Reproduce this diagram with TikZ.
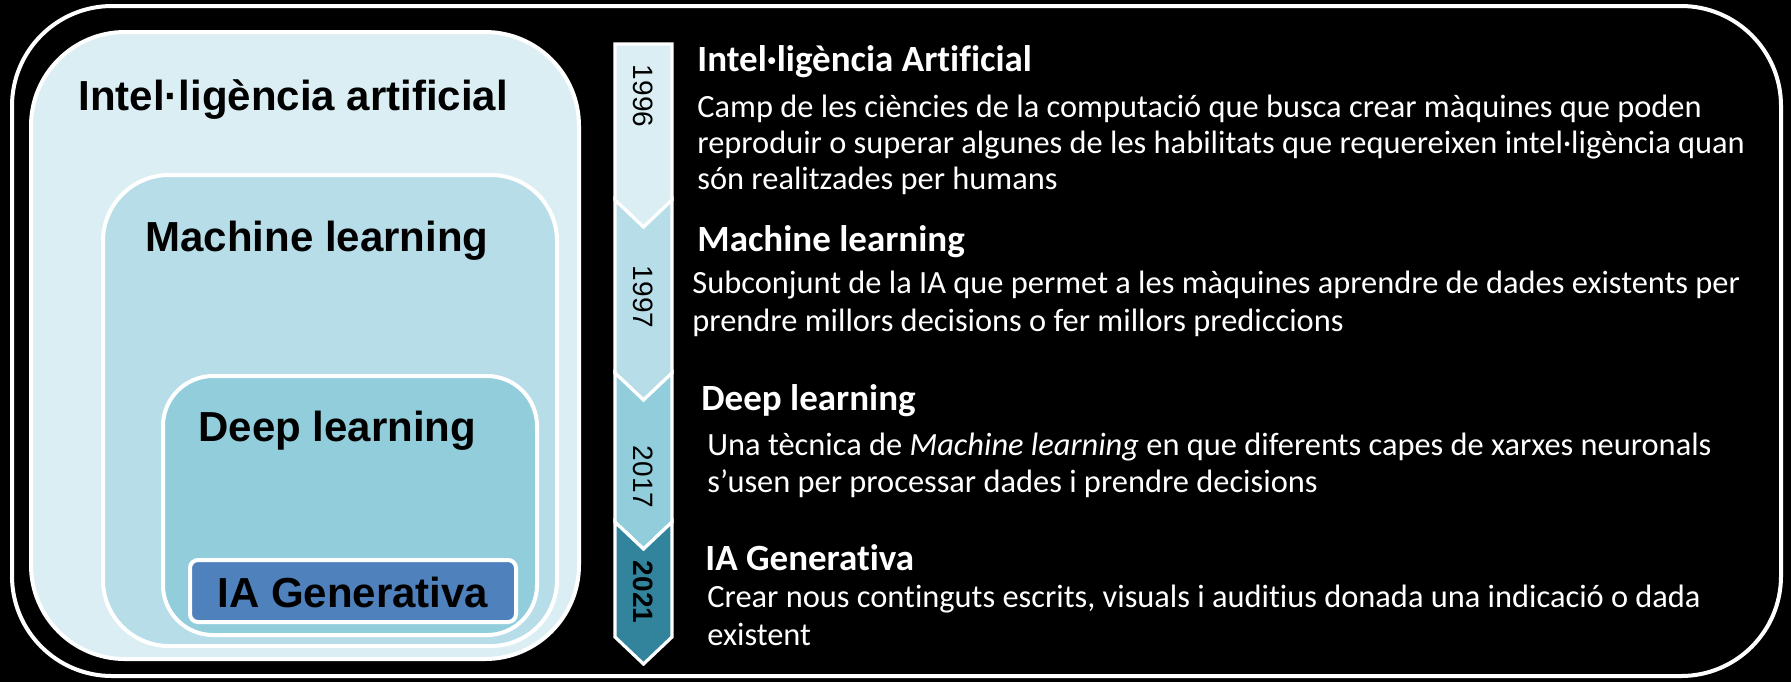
\documentclass[tikz,border=0pt]{standalone}
\usepackage{fontspec}
\setmainfont{Carlito}[Ligatures={NoCommon}]
\newfontfamily\arialf{Liberation Sans}
\definecolor{aiC}{HTML}{DAEEF3}
\definecolor{mlC}{HTML}{B7DDE8}
\definecolor{dlC}{HTML}{92CDDC}
\definecolor{genC}{HTML}{4F81BD}
\definecolor{yrC}{HTML}{31849B}
\begin{document}
\begin{tikzpicture}[x=0.5pt,y=-0.5pt,
  panel/.style={draw=white,line width=2pt},
  title/.style={anchor=base west,inner sep=0pt,font=\arialf\bfseries\fontsize{21}{24}\selectfont,text=black},
  head/.style={anchor=base west,inner sep=0pt,font=\bfseries\fontsize{18.5}{20}\selectfont,text=white},
  body/.style={anchor=base west,inner sep=0pt,font=\fontsize{16.2}{18}\selectfont,text=white},
  year/.style={rotate=-90,inner sep=0pt,font=\arialf\fontsize{14}{16}\selectfont,text=black},
  chev/.style={draw=white,line width=1.6pt,line join=miter}]
\fill[black] (0,0) rectangle (1791,682);
\useasboundingbox (0,0) rectangle (1791,682);
% outer frame
\draw[white,line width=2pt,rounded corners=50pt] (12,6) rectangle (1781,676);
% nested panels
\draw[panel,fill=aiC,rounded corners=47pt] (31,32) rectangle (579,659);
\draw[panel,fill=mlC,rounded corners=33pt] (103,175) rectangle (557,646);
\draw[panel,fill=dlC,rounded corners=25pt] (163,376) rectangle (537,635);
\draw[panel,fill=genC,rounded corners=4pt] (190,560) rectangle (516,622);
\node[title] (tAI) at (78,110) {Intel·ligència artificial};
\node[title] (tML) at (145,251) {Machine learning};
\node[title] (tDL) at (198,441) {Deep learning};
\node[title] (tGen) at (217,607) {IA Generativa};
% timeline chevrons
\draw[chev,fill=aiC] (615,44) -- (672,44) -- (672,200) -- (643.5,227) -- (615,200) -- cycle;
\draw[chev,fill=mlC] (615,200) -- (643.5,227) -- (672,200) -- (672,373) -- (643.5,400) -- (615,373) -- cycle;
\draw[chev,fill=dlC] (615,373) -- (643.5,400) -- (672,373) -- (672,522) -- (643.5,549) -- (615,522) -- cycle;
\draw[chev,fill=yrC] (615,522) -- (643.5,549) -- (672,522) -- (672,637) -- (643.5,664) -- (615,637) -- cycle;
\node[year] (y96) at (643,96) {1996};
\node[year] (y97) at (643,297) {1997};
\node[year] (y17) at (643,477) {2017};
\node[year,font=\arialf\bfseries\fontsize{14}{16}\selectfont] (y21) at (643,592) {2021};
% descriptions
\node[head] (h1) at (697,71) {Intel·ligència Artificial};
\node[body] (b1a) at (697,117) {Camp de les ciències de la computació que busca crear màquines que poden};
\node[body] (b1b) at (697,153) {reproduir o superar algunes de les habilitats que requereixen intel·ligència quan};
\node[body] (b1c) at (697,189) {són realitzades per humans};
\node[head] (h2) at (697,251) {Machine learning};
\node[body] (b2a) at (692,293) {Subconjunt de la IA que permet a les màquines aprendre de dades existents per};
\node[body] (b2b) at (692,331) {prendre millors decisions o fer millors prediccions};
\node[head] (h3) at (701,410) {Deep learning};
\node[body] (b3a) at (707,455) {Una tècnica de \textit{Machine learning} en que diferents capes de xarxes neuronals};
\node[body] (b3b) at (707,492) {s’usen per processar dades i prendre decisions};
\node[head] (h4) at (705,570) {IA Generativa};
\node[body] (b4a) at (707,607) {Crear nous continguts escrits, visuals i auditius donada una indicació o dada};
\node[body] (b4b) at (707,645) {existent};
\end{tikzpicture}
\end{document}
